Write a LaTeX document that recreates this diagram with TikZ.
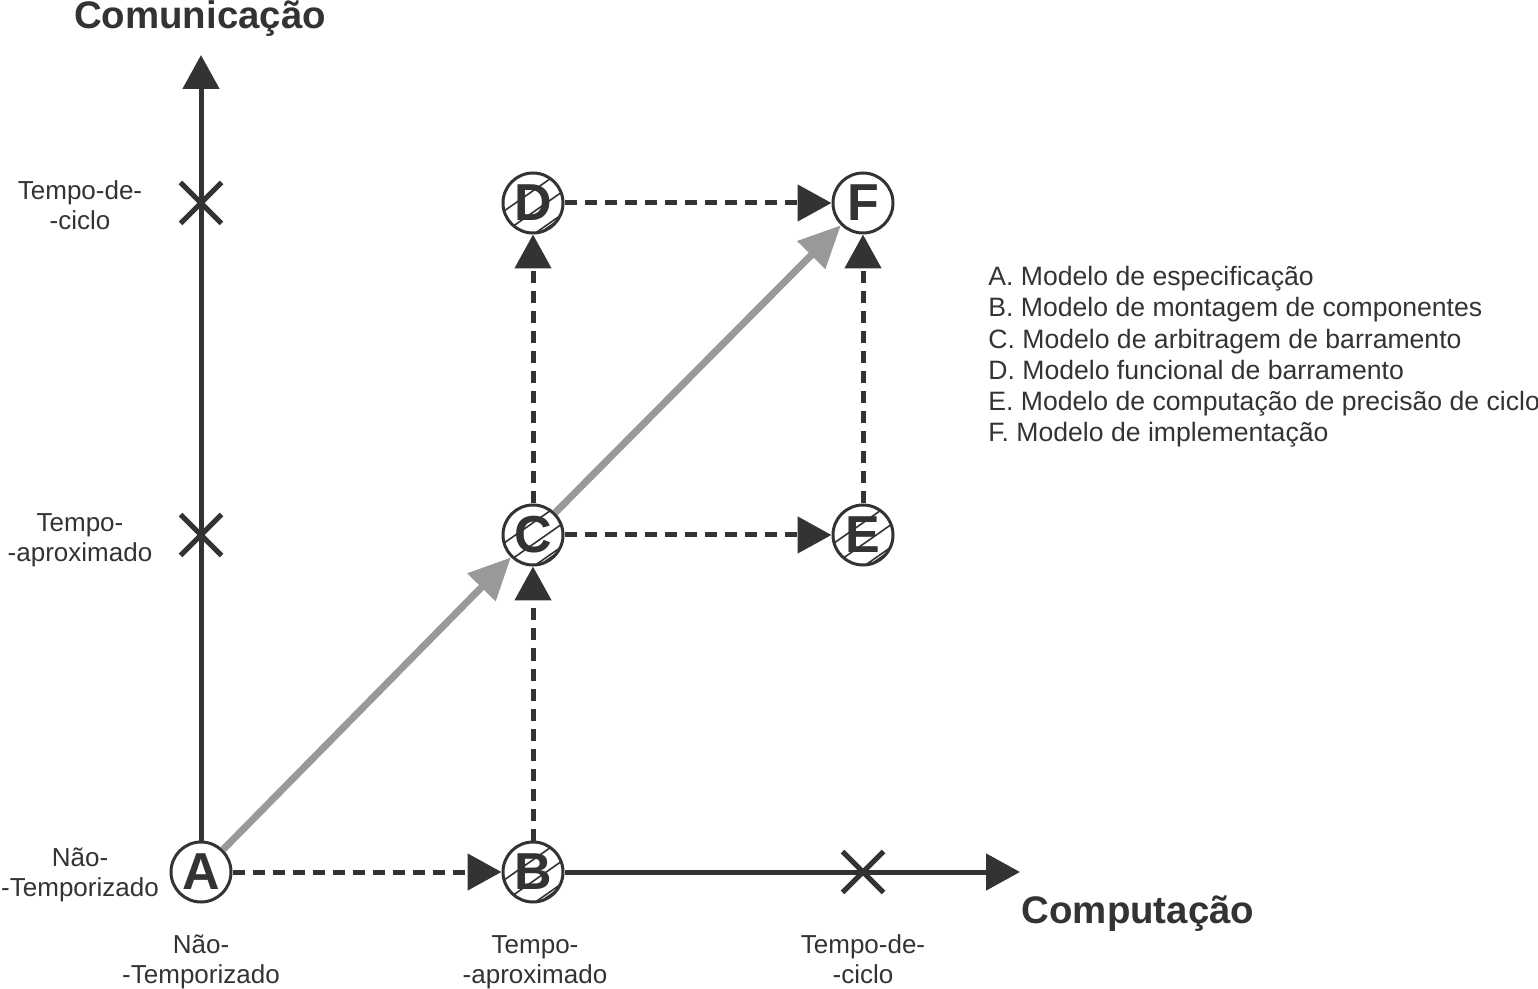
\documentclass[tikz,border=0pt]{standalone}
\usepackage{fontspec}
\setmainfont{Liberation Sans}
\usetikzlibrary{arrows.meta,shapes.misc}
\definecolor{escuro}{HTML}{333333}
\definecolor{cinza}{HTML}{999999}
\tikzset{
  modelo/.style={circle, draw=escuro, fill=white, line width=1.5pt, minimum size=30pt,
    inner sep=0pt, text=escuro, font=\fontsize{26}{26}\selectfont\bfseries},
  hachura/.style={path picture={
    \foreach \o in {5,-3.8,-13,-14.3}
      \draw[escuro, line width=0.8pt] (path picture bounding box.center)
        ++(125:\o pt) ++(35:-20pt) -- ++(35:40pt);}},
  eixo/.style={escuro, line width=2.5pt, -{Triangle[length=17pt,width=18pt]}},
  tracejada/.style={eixo, dash pattern=on 6pt off 4pt},
  cinzenta/.style={cinza, line width=3.5pt, -{Triangle[length=21pt,width=19pt]}},
  marca/.style={cross out, draw=escuro, line width=2.5pt, minimum size=18pt, inner sep=0pt},
  rotulo/.style={align=center, text=escuro, font=\fontsize{13}{15}\selectfont},
  titulo/.style={text=escuro, font=\fontsize{19.2}{20}\selectfont\bfseries}
}
\begin{document}
\begin{tikzpicture}[x=0.5pt, y=-0.5pt]
\useasboundingbox (0,0) rectangle (1538,989);
% modelos
\node[modelo] (A) at (201,872) {A};
\node[modelo, hachura] (B) at (533,872) {B};
\node[modelo, hachura] (C) at (533,535) {C};
\node[modelo, hachura] (D) at (533,203) {D};
\node[modelo, hachura] (E) at (863,535) {E};
\node[modelo] (F) at (863,203) {F};
% marcas nos eixos
\node[marca] (xciclo) at (201,203) {};
\node[marca] (xaprox) at (201,535) {};
\node[marca] (xcomp) at (863,872) {};
% eixos
\coordinate (topo) at (201,55);
\coordinate (fim) at (1020,872);
\draw[eixo] (A) -- (topo);
\draw[eixo] (B) -- (fim);
\node[titulo] (com) at (200,19) {Comunicação};
\node[titulo] (comp) at (1138,914) {Computação};
% caminhos
\draw[cinzenta] (A) -- (C);
\draw[cinzenta] (C) -- (F);
\draw[tracejada] (A) -- (B);
\draw[tracejada] (B) -- (C);
\draw[tracejada] (C) -- (D);
\draw[tracejada] (C) -- (E);
\draw[tracejada] (D) -- (F);
\draw[tracejada] (E) -- (F);
% niveis
\node[rotulo] (lciclo) at (80,205) {Tempo-de-\\-ciclo};
\node[rotulo] (laprox) at (80,540) {Tempo-\\-aproximado};
\node[rotulo] (lnao) at (80,875) {Não-\\-Temporizado};
\node[rotulo] (bnao) at (201,962) {Não-\\-Temporizado};
\node[rotulo] (baprox) at (535,962) {Tempo-\\-aproximado};
\node[rotulo] (bciclo) at (863,959) {Tempo-de-\\-ciclo};
% legenda
\node[rotulo, align=left, anchor=north west, inner sep=0pt, font=\fontsize{13.3}{15.6}\selectfont]
  (legenda) at (988,266) {A. Modelo de especificação\\
  B. Modelo de montagem de componentes\\
  C. Modelo de arbitragem de barramento\\
  D. Modelo funcional de barramento\\
  E. Modelo de computação de precisão de ciclo\\
  F. Modelo de implementação};
\end{tikzpicture}
\end{document}
